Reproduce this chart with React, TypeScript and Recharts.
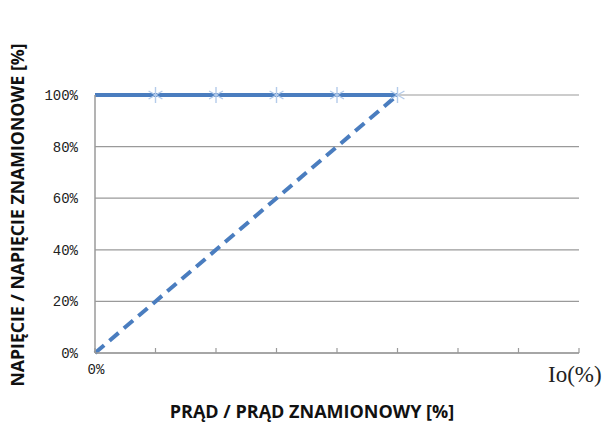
import React from 'react';
import { ComposedChart, Line, XAxis, YAxis, CartesianGrid, Scatter } from 'recharts';

const xValues = [0, 1, 2, 3, 4, 5];
const ratedVoltage = [100, 100, 100, 100, 100, 100];
const rampVoltage = [0, 20, 40, 60, 80, 100];
const markerX = [1, 2, 3, 4, 5];
const markerY = [100, 100, 100, 100, 100];
const xTicks = [0, 1, 2, 3, 4, 5, 6, 7, 8];
const yTicks = [0, 20, 40, 60, 80, 100];

const lineData = xValues.map((x, i) => ({ x, solid: ratedVoltage[i], dashed: rampVoltage[i] }));
const markerData = markerX.map((x, i) => ({ x, y: markerY[i] }));

const BLUE = '#4a7dbf';
const GRID = '#9a9a9a';

const Star = (props: any) => {
  const { cx, cy } = props;
  const r = 8;
  const lines = [0, 60, 120].map((a) => {
    const rad = (a * Math.PI) / 180;
    return (
      <line
        key={a}
        x1={cx - r * Math.sin(rad)}
        y1={cy - r * Math.cos(rad)}
        x2={cx + r * Math.sin(rad)}
        y2={cy + r * Math.cos(rad)}
        stroke="#b4cbea"
        strokeWidth={1.4}
      />
    );
  });
  return <g>{lines}</g>;
};

const XTick = (props: any) => {
  const { x, y, payload } = props;
  return (
    <g>
      <line x1={x} y1={y} x2={x} y2={y - 5} stroke={GRID} strokeWidth={1.2} />
      {payload.value === 0 && (
        <text x={x + 1} y={y + 21} textAnchor="middle" fontFamily="Liberation Mono" fontSize={14} fill="#222">
          0%
        </text>
      )}
    </g>
  );
};

export default function App() {
  return (
    <div style={{ position: 'absolute', left: 0, top: 0, width: 608, height: 423, background: '#fff' }}>
      <ComposedChart width={608} height={423} data={lineData} margin={{ top: 95, right: 29, bottom: 40, left: 0 }}>
        <CartesianGrid horizontal vertical={false} stroke={GRID} strokeWidth={1.2} />
        <XAxis
          dataKey="x"
          type="number"
          domain={[0, 8]}
          ticks={xTicks}
          tickSize={0}
          tickMargin={0}
          tickLine={false}
          tick={<XTick />}
          axisLine={{ stroke: GRID, strokeWidth: 1.5 }}
          height={30}
          allowDuplicatedCategory={false}
        />
        <YAxis
          type="number"
          domain={[0, 100]}
          ticks={yTicks}
          tickFormatter={(v: number) => `${v}%`}
          tickLine={false}
          tickMargin={11}
          axisLine={{ stroke: GRID, strokeWidth: 1.5 }}
          width={95}
          tick={{ fontFamily: 'Liberation Mono', fontSize: 14, fill: '#222' }}
        />
        <Line dataKey="dashed" stroke={BLUE} strokeWidth={4} strokeDasharray="12 7" dot={false} isAnimationActive={false} />
        <Line dataKey="solid" stroke={BLUE} strokeWidth={4} dot={false} isAnimationActive={false} />
        <Scatter data={markerData} dataKey="y" shape={<Star />} isAnimationActive={false} />
      </ComposedChart>
      <div
        style={{
          position: 'absolute',
          left: 548,
          top: 361,
          fontFamily: 'Liberation Serif',
          fontSize: 23,
          lineHeight: '28px',
          color: '#222',
          whiteSpace: 'nowrap',
        }}
      >
        Io(%)
      </div>
      <div
        style={{
          position: 'absolute',
          left: 312,
          top: 411,
          transform: 'translate(-50%, -50%)',
          fontFamily: 'Open Sans',
          fontWeight: 700,
          fontSize: 18,
          color: '#111',
          whiteSpace: 'nowrap',
        }}
      >
        PRĄD / PRĄD ZNAMIONOWY [%]
      </div>
      <div
        style={{
          position: 'absolute',
          left: 17,
          top: 215,
          transform: 'translate(-50%, -50%) rotate(-90deg)',
          fontFamily: 'Open Sans',
          fontWeight: 700,
          fontSize: 17.7,
          color: '#111',
          whiteSpace: 'nowrap',
        }}
      >
        NAPIĘCIE / NAPIĘCIE ZNAMIONOWE [%]
      </div>
    </div>
  );
}
